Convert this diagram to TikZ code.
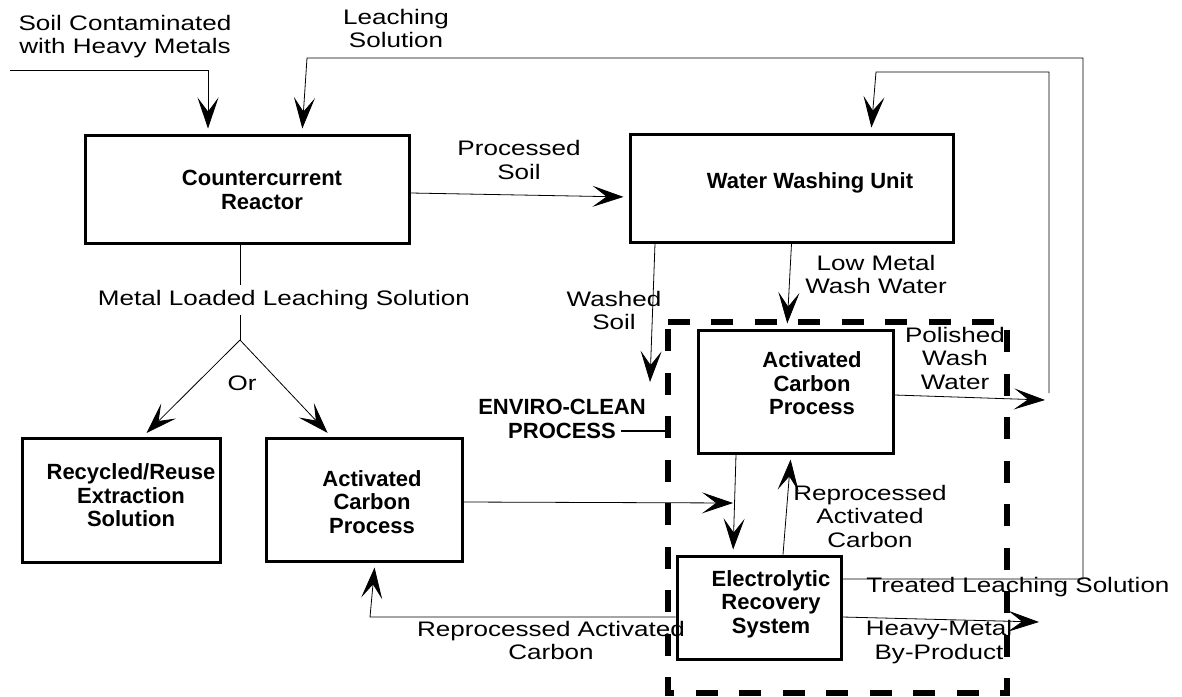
\documentclass[tikz,border=0pt]{standalone}
\usepackage{fontspec}
\setmainfont{Liberation Sans}
\newfontfamily\widefont{Liberation Sans}[FakeStretch=1.24]
\usetikzlibrary{arrows.meta}

\tikzset{
  procbox/.style={draw, line width=3pt, inner sep=0pt},
  ecbox/.style={line width=5.5pt, dash pattern=on 22pt off 21.5pt},
  boxtext/.style={font=\fontsize{22}{23.5}\selectfont\bfseries, align=center, inner sep=1pt},
  flowlabel/.style={font=\widefont\fontsize{21}{23.5}\selectfont, align=center, inner sep=1pt},
  pipe/.style={line width=0.8pt},
  flow/.style={pipe, -{Stealth[length=31pt,width=21pt,inset=14pt]}, shorten >=5pt},
}

\begin{document}
\begin{tikzpicture}[x=1pt, y=-1pt]
\useasboundingbox (0,0) rectangle (1182,696);
% the Enviro-Clean boundary goes first, so the labels sit on top of it
\node[minimum width=339pt, minimum height=371pt, inner sep=0pt] (ecp) at (837.5,507.5) {};
\draw[ecbox] (ecp.north west) -- (ecp.north east) -- (ecp.south east) -- (ecp.south west) -- cycle;

% process units (box, then its text)
\node[procbox, minimum width=324pt, minimum height=108pt] (cr) at (247,189) {};
\node[boxtext] (crtext) at (262,190) {Countercurrent\\Reactor};
\node[procbox, minimum width=323pt, minimum height=108pt] (ww) at (791.5,188) {};
\node[boxtext] (wwtext) at (810,183) {Water Washing Unit};
\node[procbox, minimum width=195pt, minimum height=123pt] (acr) at (795.5,391.5) {};
\node[boxtext] (acrtext) at (812,383.5) {Activated\\Carbon\\Process};
\node[procbox, minimum width=164pt, minimum height=103pt] (er) at (759,607.5) {};
\node[boxtext] (ertext) at (771,604) {Electrolytic\\Recovery\\System};
\node[procbox, minimum width=198pt, minimum height=124pt] (rr) at (121,500) {};
\node[boxtext] (rrtext) at (131,495.5) {Recycled/Reuse\\Extraction\\Solution};
\node[procbox, minimum width=196pt, minimum height=123pt] (acl) at (364,499.5) {};
\node[boxtext] (acltext) at (372,502) {Activated\\Carbon\\Process};

% stream labels
\node[flowlabel] (soil) at (125,36.5) {Soil Contaminated\\with Heavy Metals};
\node[flowlabel] (leach) at (396,28.5) {Leaching\\Solution};
\node[flowlabel] (procsoil) at (519,160) {Processed\\Soil};
\node[flowlabel, inner sep=5pt] (mlls) at (284,300) {Metal Loaded Leaching Solution};
\node[flowlabel] (or) at (242,383) {Or};
\node[flowlabel] (washed) at (614,310.5) {Washed\\Soil};
\node[flowlabel] (lowmetal) at (876,274.5) {Low Metal\\Wash Water};
\node[flowlabel] (polished) at (955,358) {Polished\\Wash\\Water};
\node[boxtext] (enviro) at (562,419) {ENVIRO-CLEAN\\PROCESS};
\node[flowlabel] (reprocr) at (870,516) {Reprocessed\\Activated\\Carbon};
\node[flowlabel] (treated) at (1018,587) {Treated Leaching Solution};
\node[flowlabel] (heavy) at (939,642) {Heavy-Metal\\By-Product};
\node[flowlabel] (reprocl) at (551,640.5) {Reprocessed Activated\\Carbon};

% free ends and bends
\coordinate (soilin) at (10,70);
\coordinate (tlsa) at (1083,579);
\coordinate (tlsb) at (1083,58);
\coordinate (tlsc) at (307,58);
\coordinate (pwend) at (1045,400);
\coordinate (pwa) at (1049,393);
\coordinate (pwb) at (1049,72);
\coordinate (pwc) at (876,72);
\coordinate (wsend) at (650,382);
\coordinate (aclend) at (733,503);
\coordinate (hmend) at (1039,622);
\coordinate (rpa) at (370,617);
\coordinate (apex) at (240,340);
\coordinate (envtick) at (621,431);

% feeds into the reactor
\draw[flow] (soilin) -| ([xshift=-39pt]cr.north);
\draw[flow] ([yshift=28.5pt]er.east) -- (tlsa) -- (tlsb) -- (tlsc) -- ([xshift=55pt]cr.north);
\draw[flow] ([yshift=-4pt]cr.east) -- ([yshift=-9pt]ww.west);

% metal loaded solution, split by "Or"
\draw[pipe] (cr.south -| apex) -- (mlls.north -| apex);
\draw[pipe] (mlls.south -| apex) -- (apex);
\draw[flow] (apex) -- ([xshift=22pt]rr.north);
\draw[flow] (apex) -- ([xshift=-33pt]acl.north);

% water washing and its loop
\draw[flow, shorten >=0pt] ([xshift=-136.5pt]ww.south) -- (wsend);
\draw[flow] (ww.south) -- ([xshift=-8.5pt]acr.north);
\draw[flow, shorten >=0pt] ([yshift=-3.5pt]acr.east) -- (pwend);
\draw[flow] (pwa) -- (pwb) -- (pwc) -- ([xshift=79.5pt]ww.north);

% carbon and electrolytic recovery
\draw[flow] ([xshift=-59.5pt]acr.south) -- ([xshift=-26pt]er.north);
\draw[flow] ([xshift=24pt]er.north) -- ([xshift=-4.5pt]acr.south);
\draw[flow, shorten >=0pt] ([yshift=-2.5pt]acl.east) -- (aclend);
\draw[flow] ([yshift=-9.5pt]er.west) -- (rpa) -- ([xshift=11pt]acl.south);
\draw[flow, shorten >=0pt] ([yshift=-9.5pt]er.east) -- (hmend);

\draw[line width=2.5pt] (envtick) -- (envtick -| ecp.west);
\end{tikzpicture}
\end{document}
